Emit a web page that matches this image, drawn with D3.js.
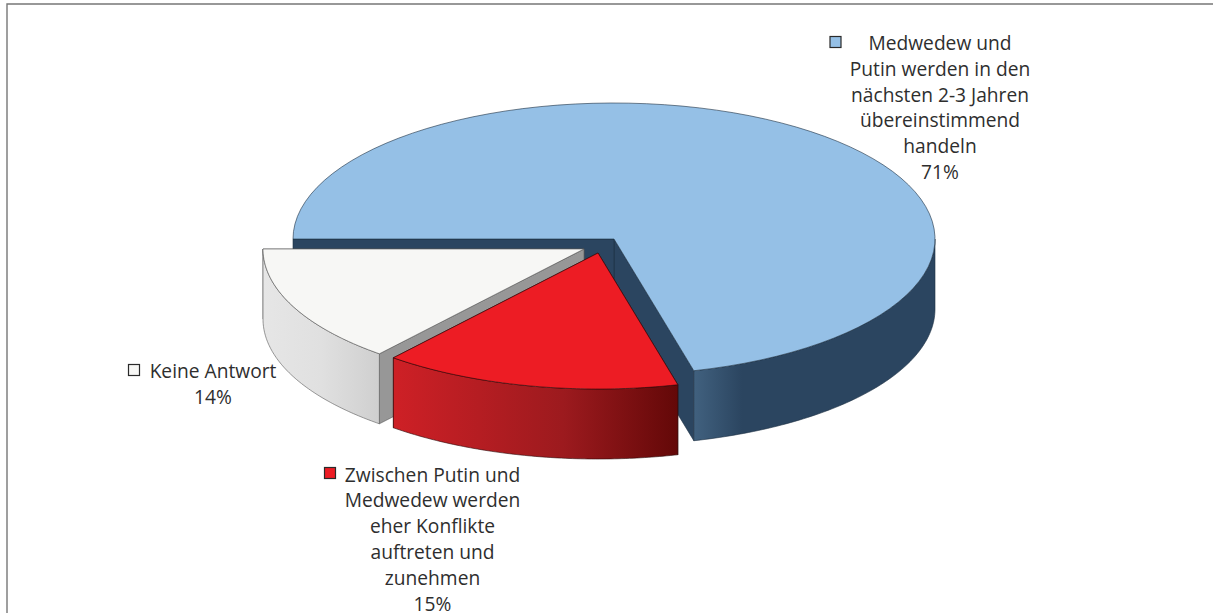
<!DOCTYPE html>
<html><head><meta charset="utf-8">
<script src="https://cdnjs.cloudflare.com/ajax/libs/d3/7.8.5/d3.min.js"></script>
<style>html,body{margin:0;padding:0;background:#fff}svg{display:block}text{font-family:"Open Sans",sans-serif;font-size:19.2px;fill:#2e2e2e;text-anchor:middle}</style>
</head><body><svg id="c" width="1213" height="613"></svg>
<script>
const categories = ["Medwedew und Putin werden in den nächsten 2-3 Jahren übereinstimmend handeln","Zwischen Putin und Medwedew werden eher Konflikte auftreten und zunehmen","Keine Antwort"];
const values = [71,15,14];
const labelLines = [["Medwedew und","Putin werden in den","nächsten 2-3 Jahren","übereinstimmend","handeln","71%"],["Zwischen Putin und","Medwedew werden","eher Konflikte","auftreten und","zunehmen","15%"],["Keine Antwort","14%"]];
const topColors = ["#95c0e6","#ed1c24","#f7f7f5"];
const cutColors = ["#2b4560","#7a1014","#979797"];
const rimStops = [[["0","#41617f"],["0.2","#2b4560"],["1","#2b4560"]],[["0","#ce2026"],["0.6","#9c1a1e"],["1","#630808"]],[["0","#e6e6e6"],["0.5","#e0e0e0"],["1","#cfcfcf"]]];
const edgeColors = ["#1c2f42","#2a0a0a","#555555"];
const centers = [[614,239],[598,253],[584,249]];
const labelX = [940,432.5,213];
const labelY = [50,481.5,378];
const swatch = [[830,36.5],[324.5,467.5],[128.5,364.5]];
const rx=321, ry=136, depth=70, startDeg=270, lineGap=25.8;

const svg=d3.select("#c");
svg.append("path").attr("d","M7,613V4H1213").attr("fill","none").attr("stroke","#777").attr("stroke-width",1.4);
const defs=svg.append("defs");
const pie=d3.pie().sort(null).value(d=>d).startAngle(startDeg*Math.PI/180).endAngle((startDeg+360)*Math.PI/180);
const arcs=pie(values);
const pt=(c,a,dy=0)=>[c[0]+rx*Math.sin(a),c[1]-ry*Math.cos(a)+dy];
const sample=(a0,a1)=>d3.range(81).map(d3.scaleLinear().domain([0,80]).range([a0,a1]));
const line=d3.line();
[0,2,1].forEach(i=>{
  const d=arcs[i],c=centers[i],g=svg.append("g");
  // cut faces first, so the rim and the top lie over them
  [d.endAngle,d.startAngle].forEach(t=>{
    const e=pt(c,t);
    g.append("path").attr("d",line([c,e,[e[0],e[1]+depth],[c[0],c[1]+depth]])+"Z").attr("fill",cutColors[i]).attr("stroke",edgeColors[i]).attr("stroke-width",.6);
  });
  // rim: only the front half of the ellipse is visible
  const A0=d.startAngle,A1=d.endAngle;
  [[Math.PI/2,3*Math.PI/2],[Math.PI/2+2*Math.PI,3*Math.PI/2+2*Math.PI]].forEach(([m,n],k)=>{
    const a=Math.max(A0,m),b=Math.min(A1,n); if(b<=a)return;
    const top=sample(a,b).map(t=>pt(c,t));
    const bot=sample(b,a).map(t=>pt(c,t,depth));
    const xs=top.map(p=>p[0]);
    const id="rim"+i+"_"+k;
    const gr=defs.append("linearGradient").attr("id",id).attr("gradientUnits","userSpaceOnUse")
      .attr("x1",d3.min(xs)).attr("x2",d3.max(xs)).attr("y1",0).attr("y2",0);
    rimStops[i].forEach(s=>gr.append("stop").attr("offset",s[0]).attr("stop-color",s[1]));
    g.append("path").attr("d",line(top.concat(bot))+"Z").attr("fill",`url(#${id})`).attr("stroke",edgeColors[i]).attr("stroke-width",.6);
  });
  g.append("path").attr("d",line([c].concat(sample(d.startAngle,d.endAngle).map(t=>pt(c,t))))+"Z").attr("fill",topColors[i]).attr("stroke",edgeColors[i]).attr("stroke-width",.6);
});
labelLines.forEach((ls,i)=>{
  svg.append("rect").attr("x",swatch[i][0]).attr("y",swatch[i][1]).attr("width",11).attr("height",11).attr("fill",topColors[i]).attr("stroke","#2a2a2a").attr("stroke-width",1.2);
  const t=svg.append("text");
  ls.forEach((l,j)=>t.append("tspan").attr("x",labelX[i]).attr("y",labelY[i]+j*lineGap).text(l));
});
</script></body></html>
